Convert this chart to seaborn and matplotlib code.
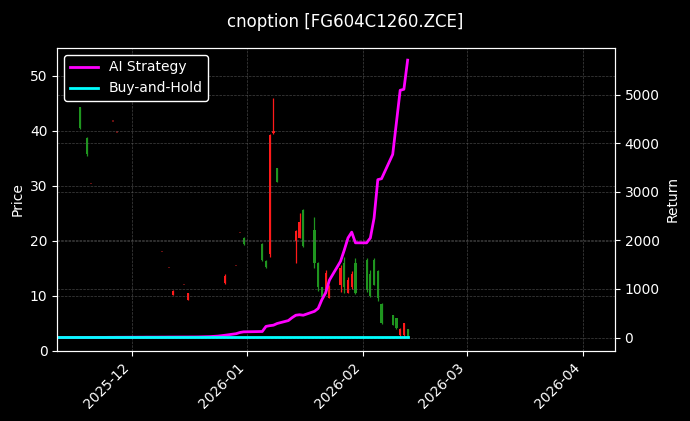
import numpy as np
import pandas as pd
import matplotlib
matplotlib.use("Agg")
import matplotlib.pyplot as plt
import matplotlib.dates as mdates
import seaborn as sns

# 行情K线（只画了能看清的那些日子）
candle_dates = ["2025-11-17", "2025-11-19", "2025-12-12", "2025-12-16", "2025-12-26",
                "2025-12-31", "2026-01-05", "2026-01-06", "2026-01-07", "2026-01-08",
                "2026-01-09", "2026-01-14", "2026-01-15", "2026-01-16", "2026-01-19",
                "2026-01-20", "2026-01-21", "2026-01-22", "2026-01-23", "2026-01-26",
                "2026-01-27", "2026-01-28", "2026-01-29", "2026-01-30", "2026-02-02",
                "2026-02-03", "2026-02-04", "2026-02-05", "2026-02-06", "2026-02-09",
                "2026-02-10", "2026-02-11", "2026-02-12", "2026-02-13"]
open_ = [40.5, 35.8, 10.9, 10.4, 13.6, 19.3, 16.5, 15.2, 39.2, 39.9,
         30.7, 21.8, 23.4, 19.0, 16.0, 11.5, 9.8, 14.2, 11.5, 15.1,
         11.5, 12.8, 14.0, 10.5, 11.0, 10.0, 12.0, 9.5, 5.0, 4.7,
         4.1, 4.0, 5.0, 2.6]
high = [44.2, 38.8, 11.0, 10.5, 14.0, 20.6, 19.6, 16.4, 39.4, 46.0,
        33.2, 21.9, 25.0, 25.7, 24.3, 16.1, 11.5, 14.6, 11.9, 15.5,
        17.0, 13.3, 14.5, 16.8, 16.8, 14.6, 16.9, 14.6, 8.6, 6.4,
        6.0, 4.2, 5.1, 4.0]
low = [40.3, 35.4, 10.1, 9.3, 12.2, 19.2, 16.3, 15.1, 17.0, 39.3,
       30.7, 15.9, 20.4, 18.8, 15.1, 10.9, 9.7, 10.5, 9.5, 10.6,
       10.5, 10.4, 11.3, 10.3, 10.6, 9.7, 11.9, 9.1, 4.9, 4.6,
       4.0, 2.7, 2.7, 2.5]
close = [44.2, 38.6, 10.2, 9.3, 12.3, 20.5, 19.4, 16.3, 17.6, 39.5,
         33.2, 20.0, 20.4, 25.5, 22.0, 16.0, 11.5, 10.5, 9.5, 12.0,
         16.0, 10.5, 11.5, 16.0, 16.5, 14.0, 16.5, 14.5, 8.5, 6.4,
         6.0, 2.8, 2.8, 4.0]

# 几乎没成交的日子，只剩一个暗红的小点
doji_dates = ["2025-11-20", "2025-11-26", "2025-11-27", "2025-12-09", "2025-12-11",
              "2025-12-15", "2025-12-29", "2025-12-30"]
doji_price = [30.2, 41.6, 39.6, 17.9, 15.0, 11.9, 15.3, 21.3]

# 收益曲线（每个交易日一个点）
ai_return = [0, 0, 1, 1,
             2, 2, 3, 3, 4,
             4, 5, 5, 6, 6,
             7, 7, 8, 8, 9,
             9, 10, 10, 11, 11,
             12, 12, 13, 13, 14,
             20, 25, 30, 38, 48,
             80, 105, 118,
             125, 230, 245, 255, 290,
             350, 410, 460, 470, 460,
             540, 600, 780, 920, 1180,
             1570, 1800, 2050, 2170, 1950,
             1950, 2050, 2460, 3250, 3270,
             3770, 4430, 5090, 5110, 5710]
bh_return = [15] * len(ai_return)

trade_days = pd.bdate_range("2025-11-11", "2026-02-13")
trade_days = trade_days.drop(pd.to_datetime(["2026-01-01", "2026-01-02"]))

plt.style.use("dark_background")
fig = plt.figure(figsize=(6.9, 4.21), dpi=100)
ax = fig.add_axes([0.083, 0.167, 0.808, 0.719])
ax2 = ax.twinx()

# 画K线
cd = pd.to_datetime(candle_dates)
o = np.array(open_)
c = np.array(close)
colors = np.where(c >= o, "#1f951f", "#ff1a1a")
ax.vlines(cd, low, high, colors=colors, linewidth=0.9)
ax.bar(cd, np.abs(c - o), bottom=np.minimum(o, c), width=0.6, color=colors)
ax.bar(pd.to_datetime(doji_dates), 0.25, bottom=doji_price, width=0.5,
       color="#6a1010")

# 收益曲线
ret = pd.DataFrame({"date": trade_days, "ai": ai_return, "bh": bh_return})
sns.lineplot(data=ret, x="date", y="ai", ax=ax2, color="#ff00ff",
             linewidth=2, label="AI Strategy")
sns.lineplot(data=ret, x="date", y="bh", ax=ax2, color="#00ffff",
             linewidth=2, label="Buy-and-Hold")

ax.set_ylim(0, 55)
ax2.set_ylim(-270, 5960)
ax.set_xlim(pd.Timestamp("2025-11-11"), pd.Timestamp("2026-04-09 14:00"))

ax.xaxis.set_major_locator(mdates.MonthLocator())
ax.xaxis.set_major_formatter(mdates.DateFormatter("%Y-%m"))
for lbl in ax.get_xticklabels():
    lbl.set_rotation(45)
    lbl.set_ha("right")
ax2.set_xlabel("")

ax.set_ylabel("Price")
ax2.set_ylabel("Return")

ax.grid(True, color="#606060", linestyle="--", linewidth=0.5, alpha=0.7)
ax2.grid(True, color="#606060", linestyle="--", linewidth=0.5, alpha=0.7)

ax2.legend(loc="upper left", facecolor="black", edgecolor="white",
           fontsize=10, framealpha=1)
fig.suptitle("cnoption [FG604C1260.ZCE]", fontsize=12, y=0.97)

fig.savefig("out.png", dpi=100, facecolor="black")
